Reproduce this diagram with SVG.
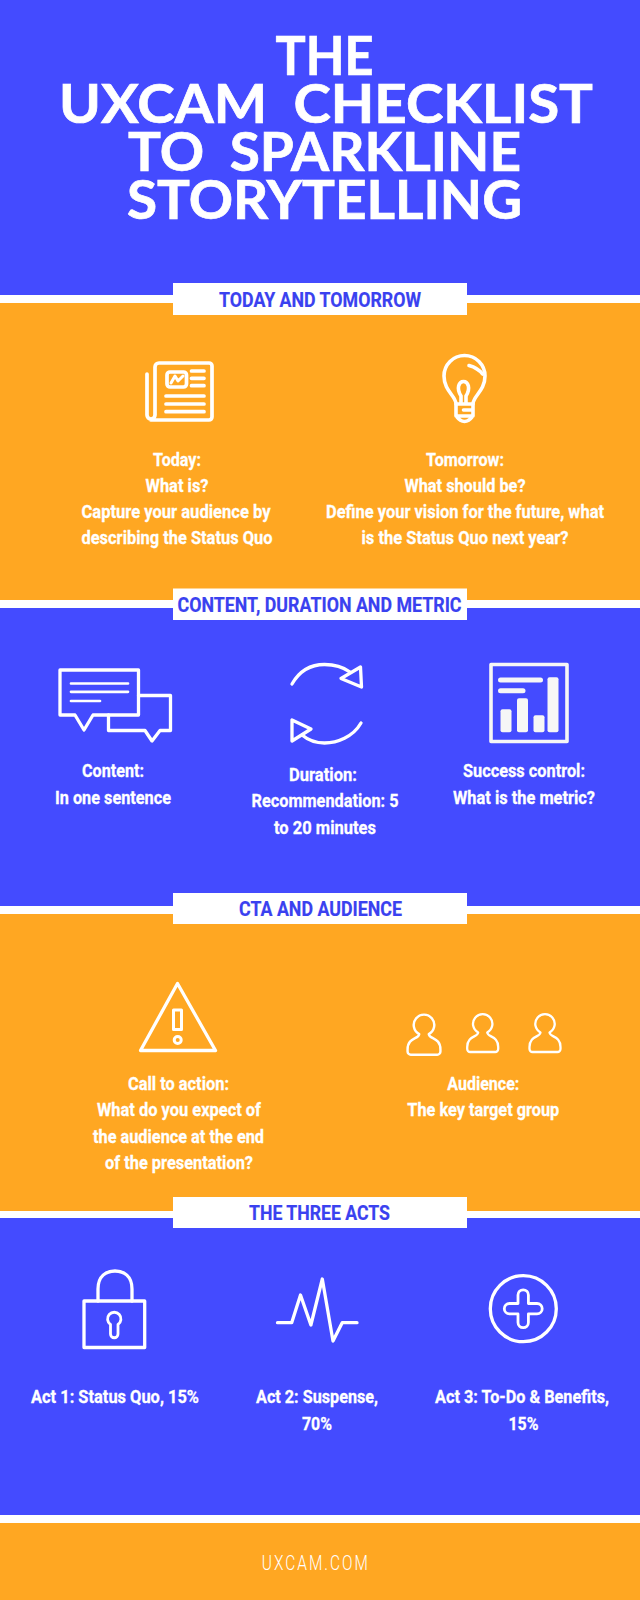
<svg xmlns="http://www.w3.org/2000/svg" width="640" height="1600" viewBox="0 0 640 1600">
<style>
.blue{fill:#444bff}.orange{fill:#ffa722}.white{fill:#fff}
.title{font-family:Lato,"Liberation Sans",sans-serif;font-weight:700;font-size:54px;fill:#fff;stroke:#fff;stroke-width:.7px;word-spacing:12px;text-anchor:middle}
.head{font-family:Roboto,"Liberation Sans",sans-serif;font-weight:700;font-size:20.5px;fill:#3a41f0;stroke:#3a41f0;stroke-width:.2px;text-anchor:middle}
.body{font-family:Roboto,"Liberation Sans",sans-serif;font-weight:700;font-size:19px;fill:#fff;stroke:#fff;stroke-width:.3px;text-anchor:middle}
.foot{font-family:Roboto,"Liberation Sans",sans-serif;font-weight:300;font-size:19.5px;letter-spacing:2.5px;fill:#fff;text-anchor:middle}
.ic{fill:none;stroke:#fff;stroke-width:3.3;stroke-linecap:round;stroke-linejoin:round}
.ic2{fill:none;stroke:#f6f6f6;stroke-width:3.6;stroke-linecap:round;stroke-linejoin:round}
</style>
<defs>
<path id="person" d="M-4.500 1032.500A9.700 9.700 0 1 1 4.500 1032.500C5 1037.500 15.500 1035.500 15.500 1047V1049a3 3 0 0 1-3 3H-12.500a3 3 0 0 1-3-3V1047C-15.500 1035.500-5 1037.500-4.500 1032.500Z"/>
</defs>
<g id="bands">
<rect class="blue" x="0" y="0" width="640" height="295"/>
<rect class="white" x="0" y="295" width="640" height="8"/>
<rect class="orange" x="0" y="303" width="640" height="297"/>
<rect class="white" x="0" y="600" width="640" height="8"/>
<rect class="blue" x="0" y="608" width="640" height="298"/>
<rect class="white" x="0" y="906" width="640" height="8"/>
<rect class="orange" x="0" y="914" width="640" height="297"/>
<rect class="white" x="0" y="1211" width="640" height="7"/>
<rect class="blue" x="0" y="1218" width="640" height="297"/>
<rect class="white" x="0" y="1515" width="640" height="8"/>
<rect class="orange" x="0" y="1523" width="640" height="77"/>
</g>
<g id="main-title">
<text class="title" x="324.500" y="75" textLength="98" lengthAdjust="spacingAndGlyphs">THE</text>
<text class="title" x="326" y="123" textLength="534" lengthAdjust="spacingAndGlyphs">UXCAM CHECKLIST</text>
<text class="title" x="324.500" y="171" textLength="393" lengthAdjust="spacingAndGlyphs">TO SPARKLINE</text>
<text class="title" x="324.500" y="219" textLength="395" lengthAdjust="spacingAndGlyphs">STORYTELLING</text>
</g>
<g id="header-today">
<rect class="white" x="173" y="283" width="294" height="32"/>
<text class="head" x="320" y="306.500" textLength="202" lengthAdjust="spacingAndGlyphs">TODAY AND TOMORROW</text>
</g>
<g id="header-content">
<rect class="white" x="173" y="588.500" width="294" height="31.500"/>
<text class="head" x="319.500" y="611.500" textLength="284" lengthAdjust="spacingAndGlyphs">CONTENT, DURATION AND METRIC</text>
</g>
<g id="header-cta">
<rect class="white" x="173" y="893" width="294" height="31"/>
<text class="head" x="320.500" y="915.500" textLength="163" lengthAdjust="spacingAndGlyphs">CTA AND AUDIENCE</text>
</g>
<g id="header-acts">
<rect class="white" x="173" y="1197" width="294" height="31"/>
<text class="head" x="319.500" y="1219.500" textLength="141" lengthAdjust="spacingAndGlyphs">THE THREE ACTS</text>
</g>
<g id="today">
<g class="ic" style="stroke-width:3.700">
<path d="M147 374V415a4 4 0 0 0 8 0V367a4 4 0 0 1 4-4H209a3 3 0 0 1 3 3V417a3 3 0 0 1-3 3H151"/>
<rect x="167" y="372" width="19.500" height="15" rx="3"/>
<path style="stroke-width:3" d="M171 383L175 376L178 381L183 376"/>
<path d="M191.500 371H204M191.500 378.300H204M191.500 385.700H204M166 396H204M166 404H204M166 411.700H204"/>
</g>
<text class="body" x="177" y="465.500" textLength="48" lengthAdjust="spacingAndGlyphs">Today:</text>
<text class="body" x="177" y="492" textLength="63" lengthAdjust="spacingAndGlyphs">What is?</text>
<text class="body" x="176" y="518.300" textLength="189" lengthAdjust="spacingAndGlyphs">Capture your audience by</text>
<text class="body" x="177" y="544.300" textLength="191" lengthAdjust="spacingAndGlyphs">describing the Status Quo</text>
</g>
<g id="tomorrow">
<g class="ic" style="stroke-width:3.600">
<path d="M456 404C456 396 444 391 444 376A20.500 20.500 0 0 1 485 376C485 391 473 396 473 404"/>
<path d="M456 404H473V416H456ZM463.500 410H473M456 416Q464.500 427 473 416"/>
<path d="M461 403V396C456 388 459 381.500 463.500 381.500C468 381.500 471 388 466 396V403"/>
<path d="M469 365.500Q478 368 482.500 374"/>
</g>
<text class="body" x="465" y="465.500" textLength="78" lengthAdjust="spacingAndGlyphs">Tomorrow:</text>
<text class="body" x="465" y="492" textLength="121" lengthAdjust="spacingAndGlyphs">What should be?</text>
<text class="body" x="465" y="518.300" textLength="278" lengthAdjust="spacingAndGlyphs">Define your vision for the future, what</text>
<text class="body" x="465" y="544.300" textLength="207" lengthAdjust="spacingAndGlyphs">is the Status Quo next year?</text>
</g>
<g id="content">
<g class="ic">
<path d="M60 670H138.500V715H93L84 730L75 715H60Z"/>
<path d="M138.500 695.500H170.500V730.500H160L152 741L145 730.500H108.500V715"/>
<path style="stroke-width:2.700" d="M71 683.500H128M71 691.800H128M71 701H100"/>
</g>
<text class="body" x="113" y="777.300" textLength="62" lengthAdjust="spacingAndGlyphs">Content:</text>
<text class="body" x="113" y="804" textLength="116" lengthAdjust="spacingAndGlyphs">In one sentence</text>
</g>
<g id="duration">
<g class="ic">
<path d="M292 684C300 670 312 664.500 324.500 664.500C335 664.500 343 667 350 672"/>
<path d="M341 678.500L360.500 667L361.500 687Z"/>
<path d="M361 723C353 737 337 743 324.500 743C315 743 308 740 302 735"/>
<path d="M311 729L292 720L292 741Z"/>
</g>
<text class="body" x="323" y="780.700" textLength="68" lengthAdjust="spacingAndGlyphs">Duration:</text>
<text class="body" x="325" y="807" textLength="147" lengthAdjust="spacingAndGlyphs">Recommendation: 5</text>
<text class="body" x="325" y="834" textLength="102" lengthAdjust="spacingAndGlyphs">to 20 minutes</text>
</g>
<g id="success">
<rect class="ic2" x="491" y="664.500" width="76" height="77"/>
<g fill="#f6f6f6">
<rect x="500.500" y="709.300" width="11" height="23" rx="2"/>
<rect x="517" y="698.300" width="11" height="34" rx="2"/>
<rect x="533.500" y="715.300" width="11" height="17" rx="2"/>
<rect x="547.500" y="677.300" width="11" height="55" rx="2"/>
<rect x="498" y="677.500" width="45" height="5" rx="2.500"/>
<rect x="498" y="688.300" width="27.500" height="5" rx="2.500"/>
</g>
<text class="body" x="524" y="777.300" textLength="122" lengthAdjust="spacingAndGlyphs">Success control:</text>
<text class="body" x="524" y="804" textLength="142" lengthAdjust="spacingAndGlyphs">What is the metric?</text>
</g>
<g id="cta">
<g class="ic">
<path d="M177.500 983.500L215.500 1050.500H140.500Z"/>
<path style="stroke-width:3" d="M173.500 1010H181.500V1029.500H173.500Z"/>
<circle style="stroke-width:3" cx="177.700" cy="1040" r="3.500"/>
</g>
<text class="body" x="178.500" y="1090" textLength="101" lengthAdjust="spacingAndGlyphs">Call to action:</text>
<text class="body" x="179" y="1116" textLength="164" lengthAdjust="spacingAndGlyphs">What do you expect of</text>
<text class="body" x="178.500" y="1142.700" textLength="171" lengthAdjust="spacingAndGlyphs">the audience at the end</text>
<text class="body" x="179" y="1169" textLength="148" lengthAdjust="spacingAndGlyphs">of the presentation?</text>
</g>
<g id="audience">
<g class="ic" style="stroke-width:2.300">
<use href="#person" transform="translate(424 1025) scale(1.060) translate(0 -1024)"/>
<use href="#person" transform="translate(482.700 0)"/>
<use href="#person" transform="translate(545 0)"/>
</g>
<text class="body" x="483.300" y="1090" textLength="72" lengthAdjust="spacingAndGlyphs">Audience:</text>
<text class="body" x="483.300" y="1116" textLength="152" lengthAdjust="spacingAndGlyphs">The key target group</text>
</g>
<g id="act1">
<g class="ic">
<rect x="84" y="1301" width="60.700" height="46.500"/>
<path d="M98 1301V1289C98 1276 106 1271 115 1271C124 1271 132 1276 132 1289V1301"/>
<path style="stroke-width:2.800" d="M110.500 1324.500A6.700 6.700 0 1 1 118 1324.500V1334a3.700 3.700 0 0 1-7.500 0Z"/>
</g>
<text class="body" x="115" y="1403.300" textLength="168" lengthAdjust="spacingAndGlyphs">Act 1: Status Quo, 15%</text>
</g>
<g id="act2">
<path class="ic" d="M277.500 1322.700H291.700L300.500 1295L310.900 1325L322.300 1279L333 1341L342.200 1322.700H357"/>
<text class="body" x="317" y="1403.300" textLength="122" lengthAdjust="spacingAndGlyphs">Act 2: Suspense,</text>
<text class="body" x="317" y="1430" textLength="30" lengthAdjust="spacingAndGlyphs">70%</text>
</g>
<g id="act3">
<g class="ic">
<circle cx="523.300" cy="1308.700" r="33"/>
<path style="stroke-width:2.800" d="M518 1295a5.200 5.200 0 0 1 10.400 0V1303.500H537a5.200 5.200 0 0 1 0 10.400H528.400V1322.500a5.200 5.200 0 0 1-10.400 0V1313.900H509.500a5.200 5.200 0 0 1 0-10.400H518Z"/>
</g>
<text class="body" x="522" y="1403.300" textLength="174" lengthAdjust="spacingAndGlyphs">Act 3: To-Do &amp; Benefits,</text>
<text class="body" x="523.500" y="1430" textLength="30" lengthAdjust="spacingAndGlyphs">15%</text>
</g>
<g id="footer">
<text class="foot" x="315.800" y="1570" textLength="108" lengthAdjust="spacingAndGlyphs">UXCAM.COM</text>
</g>
</svg>
